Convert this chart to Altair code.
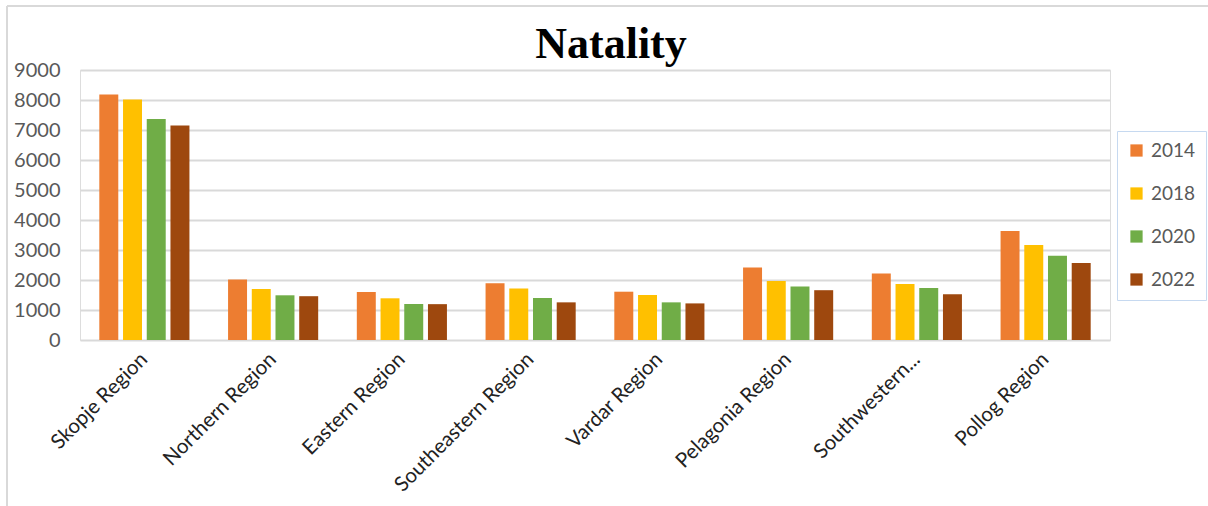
import altair as alt
import pandas as pd

regions = ["Skopje Region", "Northern Region", "Eastern Region", "Southeastern Region",
           "Vardar Region", "Pelagonia Region", "Southwestern Region", "Pollog Region"]
years = ["2014", "2018", "2020", "2022"]
v2014 = [8180, 2020, 1600, 1890, 1610, 2420, 2220, 3630]
v2018 = [8020, 1700, 1390, 1720, 1500, 1970, 1870, 3170]
v2020 = [7370, 1490, 1200, 1400, 1255, 1780, 1735, 2810]
v2022 = [7150, 1460, 1195, 1255, 1220, 1660, 1525, 2570]
colors = ["#ED7D31", "#FFC000", "#70AD47", "#9E480E"]

rows = []
for yr, vals in zip(years, [v2014, v2018, v2020, v2022]):
    for r, v in zip(regions, vals):
        rows.append({"Region": r, "Year": yr, "Value": v})
df = pd.DataFrame(rows)

bars = alt.Chart(df).mark_bar().encode(
    x=alt.X("Region:N", sort=regions,
            scale=alt.Scale(paddingInner=0.3, paddingOuter=0.15),
            axis=alt.Axis(title=None, labelAngle=-45, labelAlign="right", labelBaseline="middle",
                          labelFont="Lato", labelFontSize=20.5, labelColor="#222222",
                          labelPadding=16, labelLimit=300, ticks=False, domain=False, grid=False,
                          labelExpr="datum.label == 'Southwestern Region' ? 'Southwestern...' : datum.label")),
    xOffset=alt.XOffset("Year:N", sort=years, scale=alt.Scale(paddingInner=0.2)),
    y=alt.Y("Value:Q", scale=alt.Scale(domain=[0, 9000]),
            axis=alt.Axis(title=None, values=list(range(0, 9001, 1000)), format="d",
                          labelFont="Lato", labelFontSize=20, labelColor="#595959", labelPadding=20,
                          ticks=False, domain=False, gridColor="#d9d9d9", gridWidth=2)),
    color=alt.Color("Year:N", sort=years, scale=alt.Scale(domain=years, range=colors),
                    legend=alt.Legend(title=None, orient="none", legendX=1037, legendY=61,
                                      symbolType="square", symbolSize=150, symbolStrokeWidth=0,
                                      labelFont="Lato", labelFontSize=19, labelColor="#595959",
                                      labelOffset=5, rowPadding=23, padding=10,
                                      strokeColor="#c6d9f0", fillColor="white")),
)

frame_df = pd.DataFrame({"k": [0]})
left_border = alt.Chart(frame_df).mark_rule(color="#d9d9d9", strokeWidth=2).encode(
    x=alt.value(-73), y=alt.value(-64), y2=alt.value(436))
top_border = alt.Chart(frame_df).mark_rule(color="#d9d9d9", strokeWidth=2).encode(
    x=alt.value(-73), x2=alt.value(1128), y=alt.value(-64))

chart = alt.layer(left_border, top_border, bars).properties(
    width=1030, height=270,
    title=alt.Title("Natality", font="Liberation Serif", fontSize=44, fontWeight="bold",
                    color="black", anchor="middle", dx=16, dy=66, offset=4),
    autosize=alt.AutoSizeParams(type="none"),
    padding={"left": 80, "top": 70, "right": 98, "bottom": 166},
).configure_view(stroke=None).configure(background="white")

chart.save("out.html", embed_options={"renderer": "svg", "actions": False})
